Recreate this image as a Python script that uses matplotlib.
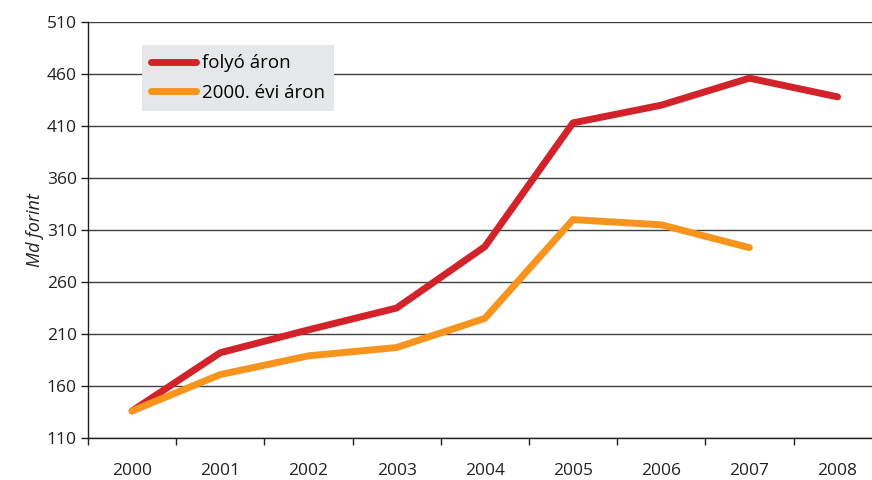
import matplotlib
matplotlib.use("Agg")
import matplotlib.pyplot as plt
import numpy as np

years = ["2000", "2001", "2002", "2003", "2004", "2005", "2006", "2007", "2008"]
current_prices = [136, 192, 214, 235, 294, 413, 430, 456, 438]
prices_2000 = [136, 171, 189, 197, 225, 320, 315, 293]

plt.rcParams["font.family"] = ["Open Sans", "DejaVu Sans"]

fig = plt.figure(figsize=(8.72, 4.8), dpi=100)
ax = fig.add_axes([88 / 872, 42 / 480, 784 / 872, 416 / 480])

x = np.arange(len(years))
ax.plot(x, current_prices, color="#d2232a", lw=5, solid_capstyle="round",
        solid_joinstyle="round", label="folyó áron", zorder=3)
ax.plot(x[:len(prices_2000)], prices_2000, color="#f7941d", lw=5,
        solid_capstyle="round", solid_joinstyle="round", label="2000. évi áron", zorder=3)

ax.set_ylim(110, 510)
ax.set_yticks(np.arange(110, 511, 50))
ax.set_xlim(-0.5, 8.39)
ax.set_xticks(x)
ax.set_xticklabels(years)
ax.set_xticks(np.arange(-0.5, 8.5, 1), minor=True)
ax.tick_params(axis="x", which="major", length=0, pad=18, labelsize=12.5, colors="#231f20")
ax.tick_params(axis="x", which="minor", length=5, width=1, color="#231f20")
ax.tick_params(axis="y", length=5, width=1, labelsize=12.5, colors="#231f20", pad=3)

ax.grid(axis="y", color="#404040", lw=1)
ax.set_axisbelow(True)
for s in ["top", "right"]:
    ax.spines[s].set_visible(False)
for s in ["left", "bottom"]:
    ax.spines[s].set_color("#231f20")
    ax.spines[s].set_linewidth(1)

ax.set_ylabel("Md forint", style="italic", fontsize=13, color="#231f20", labelpad=2)

leg = ax.legend(loc="upper left", bbox_to_anchor=(0.069, 0.945), borderaxespad=0,
                frameon=True, fancybox=False, fontsize=13.5, handlelength=2.4,
                handletextpad=0.3, borderpad=0.5, labelspacing=0.6)
leg.get_frame().set_facecolor("#e6e7e8")
leg.get_frame().set_edgecolor("none")
leg.get_frame().set_alpha(1)

fig.savefig("out.png", dpi=100)
